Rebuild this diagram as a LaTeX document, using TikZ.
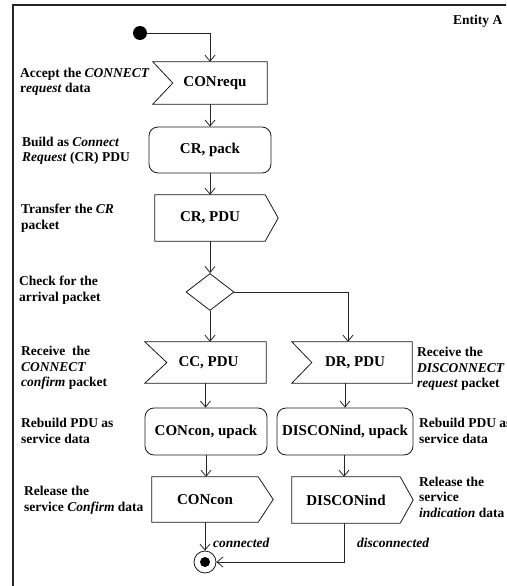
\documentclass[tikz,border=0pt]{standalone}
\usepackage{fontspec}
\setmainfont{Liberation Serif}
\usetikzlibrary{arrows.meta,shapes.geometric,calc}

\begin{document}
\begin{tikzpicture}[x=1pt,y=-1pt,
  flow/.style={draw=black!85, line width=0.8pt, -{Straight Barb[length=6pt,width=10pt]}},
  boxtext/.style={font=\fontsize{15}{17}\selectfont\bfseries, inner sep=0pt},
  slot/.style={boxtext, draw=none},
  outline/.style={draw=black!90, line width=0.8pt},
  action/.style={boxtext, draw=black!90, line width=0.8pt, rounded corners=9pt},
  lbl/.style={font=\fontsize{13.5}{15.5}\selectfont\bfseries, align=left, anchor=west, inner sep=0pt},
  flowlbl/.style={font=\fontsize{13.5}{15.5}\selectfont\bfseries\itshape, anchor=west, inner sep=0pt},
]
\clip (0,0) rectangle (506,586);

% swimlane frame
\draw[line width=1.3pt, black!85] (13,600) -- (13,5) -- (520,5);
\node[lbl] (ent) at (453,21) {Entity A};

% initial and final nodes
\node[circle, fill=black, minimum size=14pt, inner sep=0pt] (ini) at (140,33) {};
\node[circle, draw=black!90, line width=0.8pt, minimum size=22pt, inner sep=0pt] (fin) at (205,562) {};
\node[circle, fill=black, minimum size=10pt, inner sep=0pt] (findot) at (fin) {};

% accept CONNECT request (receive signal)
\node[slot, minimum width=114pt, minimum height=42pt] (crq) at (210,83) {\hspace*{10pt}CONrequ};
\draw[outline] (crq.north west) -- (crq.north east) -- (crq.south east) -- (crq.south west) -- ([xshift=20pt]crq.west) -- cycle;

% build CR PDU
\node[action, minimum width=122pt, minimum height=46pt] (crp) at (210,150) {CR, pack};

% send CR PDU
\node[slot, minimum width=110pt, minimum height=46pt] (crs) at (210,218) {CR, PDU};
\draw[outline] (crs.north west) -- (crs.north east) -- ([xshift=13pt]crs.east) -- (crs.south east) -- (crs.south west) -- cycle;

% decision
\node[diamond, draw=black!90, line width=0.8pt, minimum width=48pt, minimum height=37pt, inner sep=0pt] (dia) at (210,292) {};

% receive CC PDU
\node[slot, minimum width=121pt, minimum height=41pt] (cc) at (205.5,362.5) {\hspace*{6pt}CC, PDU};
\draw[outline] (cc.north west) -- (cc.north east) -- (cc.south east) -- (cc.south west) -- ([xshift=22pt]cc.west) -- cycle;

% receive DR PDU
\node[slot, minimum width=120pt, minimum height=41pt] (dr) at (352,362.5) {\hspace*{6pt}DR, PDU};
\draw[outline] (dr.north west) -- (dr.north east) -- (dr.south east) -- (dr.south west) -- ([xshift=20pt]dr.west) -- cycle;

% unpack actions
\node[action, minimum width=122pt, minimum height=47pt] (ccu) at (206,431.5) {CONcon, upack};
\node[action, minimum width=136pt, minimum height=47pt] (dru) at (345,431.5) {DISCONind, upack};

% send service primitives
\node[slot, minimum width=106pt, minimum height=45pt] (con) at (205,499.5) {CONcon};
\draw[outline] (con.north west) -- (con.north east) -- ([xshift=15pt]con.east) -- (con.south east) -- (con.south west) -- cycle;
\node[slot, minimum width=108pt, minimum height=46pt] (din) at (346,500) {DISCONind};
\draw[outline] (din.north west) -- (din.north east) -- ([xshift=13pt]din.east) -- (din.south east) -- (din.south west) -- cycle;

% control flow
\draw[flow] (ini.east) -| (crq.north);
\draw[flow] (crq.south) -- (crp.north);
\draw[flow] (crp.south) -- (crs.north);
\draw[flow] (crs.south) -- (dia.north);
\draw[flow] (dia.south) -- (dia.south |- cc.north);
\draw[flow] (dia.east) -| ([xshift=-4pt]dr.north);
\draw[flow] (cc.south) -- (cc.south |- ccu.north);
\draw[flow] (dru.north |- dr.south) -- (dru.north);
\draw[flow] (ccu.south) -- (ccu.south |- con.north);
\draw[flow] ([xshift=-2pt]din.north |- dru.south) -- ([xshift=-2pt]din.north);
\draw[flow] (con.south) -- (fin.north);
\draw[flow] ([xshift=-2pt]din.south) |- (fin.east);
\node[flowlbl] (lcon) at (213,543) {connected};
\node[flowlbl] (ldis) at (357,543) {disconnected};

% step descriptions, left lane
\node[lbl] (l1) at (20,82) {Accept the \textit{CONNECT}\\r\textit{equest} data};
\node[lbl] (l2) at (22,151) {Build as \textit{Connect}\\\textit{Request} (CR) PDU};
\node[lbl] (l3) at (21,218) {Transfer the \textit{CR}\\packet};
\node[lbl] (l4) at (19,290) {Check for the\\arrival packet};
\node[lbl] (l5) at (21,368) {Receive~ the\\\textit{CONNECT}\\\textit{confirm} packet};
\node[lbl] (l6) at (21,431) {Rebuild PDU as\\service data};
\node[lbl] (l7) at (24,500) {Release the\\service \textit{Confirm} data};

% step descriptions, right lane
\node[lbl] (r1) at (417,369) {Receive the\\\textit{DISCONNECT}\\\textit{request} packet};
\node[lbl] (r2) at (419,431) {Rebuild PDU as\\service data};
\node[lbl] (r3) at (419,497) {Release the\\service\\\textit{indication} data};
\end{tikzpicture}
\end{document}
